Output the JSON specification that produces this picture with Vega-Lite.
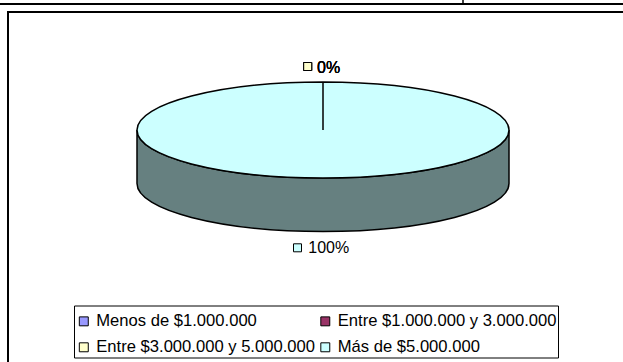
{
  "$schema": "https://vega.github.io/schema/vega-lite/v6.json",
  "autosize": "none",
  "width": 620,
  "height": 360,
  "padding": {"left": 8, "top": 12, "right": 0, "bottom": 0},
  "background": "white",
  "config": {
    "view": {"stroke": "black", "strokeWidth": 2},
    "font": "Liberation Sans",
    "text": {"font": "Liberation Sans", "fontSize": 16, "color": "black"},
    "legend": {
      "labelFont": "Liberation Sans",
      "labelFontSize": 16.6,
      "labelColor": "black",
      "labelLimit": 400,
      "labelOffset": 4.2,
      "symbolType": "square",
      "symbolSize": 80,
      "symbolStrokeColor": "black",
      "symbolStrokeWidth": 1,
      "symbolOpacity": 1,
      "strokeColor": "black",
      "padding": 1.5,
      "rowPadding": 9,
      "columnPadding": 1.5,
      "titleFontSize": 1,
      "titlePadding": 5
    }
  },
  "data": {
    "values": [
      {"rango": "Menos de $1.000.000", "share": 0},
      {"rango": "Entre $1.000.000 y 3.000.000", "share": 0},
      {"rango": "Entre $3.000.000 y 5.000.000", "share": 0},
      {"rango": "Más de $5.000.000", "share": 1}
    ]
  },
  "layer": [
    {
      "data": {"values": [{}]},
      "mark": {"type": "rule", "color": "black", "strokeWidth": 2},
      "encoding": {"x": {"value": -8}, "x2": {"value": 615}, "y": {"value": -8}}
    },
    {
      "data": {"values": [{}]},
      "mark": {"type": "rule", "color": "black", "strokeWidth": 1.5},
      "encoding": {"x": {"value": 455}, "y": {"value": -12}, "y2": {"value": -8}}
    },
    {
      "transform": [{"filter": "datum.share > 0"}],
      "mark": {
        "type": "point",
        "shape": "M -1 0 L -1 0.2876 C -1 0.4301 -0.5523 0.5456 0 0.5456 C 0.5523 0.5456 1 0.4301 1 0.2876 L 1 0 C 1 0.1425 0.5523 0.258 0 0.258 C -0.5523 0.258 -1 0.1425 -1 0 Z",
        "filled": true,
        "fill": "#668080",
        "stroke": "black",
        "strokeWidth": 1.5,
        "opacity": 1,
        "size": 138384,
        "xOffset": 5,
        "yOffset": -62
      },
      "encoding": {"detail": {"field": "rango"}}
    },
    {
      "transform": [{"filter": "datum.share > 0"}],
      "mark": {
        "type": "point",
        "shape": "M -1 0 C -1 -0.1425 -0.5523 -0.258 0 -0.258 C 0.5523 -0.258 1 -0.1425 1 0 C 1 0.1425 0.5523 0.258 0 0.258 C -0.5523 0.258 -1 0.1425 -1 0 Z M 0 0 L 0 -0.258",
        "filled": true,
        "stroke": "black",
        "strokeWidth": 1.5,
        "opacity": 1,
        "size": 138384,
        "xOffset": 5,
        "yOffset": -62
      },
      "encoding": {
        "color": {
          "field": "rango",
          "type": "nominal",
          "scale": {
            "domain": ["Menos de $1.000.000", "Entre $1.000.000 y 3.000.000", "Entre $3.000.000 y 5.000.000", "Más de $5.000.000"],
            "range": ["#9999FF", "#993366", "#FFFFCC", "#CCFFFF"]
          },
          "legend": {"title": " ", "orient": "none", "legendX": 66, "legendY": 293.5, "columns": 2, "direction": "horizontal"}
        }
      }
    },
    {
      "transform": [{"filter": "datum.share == 0"}],
      "mark": {"type": "point", "shape": "square", "filled": true, "stroke": "black", "strokeWidth": 1, "opacity": 1, "size": 64, "xOffset": -10.3, "yOffset": -125.5},
      "encoding": {
        "color": {"field": "rango", "type": "nominal", "legend": {"title": " ", "orient": "none", "legendX": 66, "legendY": 293.5, "columns": 2, "direction": "horizontal"}}
      }
    },
    {
      "transform": [{"filter": "datum.share == 0"}],
      "mark": {"type": "text", "align": "left", "baseline": "alphabetic", "fontSize": 16, "xOffset": -1, "yOffset": -118.7},
      "encoding": {"text": {"field": "share", "type": "quantitative", "format": ".0%"}}
    },
    {
      "transform": [{"filter": "datum.share > 0"}],
      "mark": {"type": "point", "shape": "square", "filled": true, "stroke": "black", "strokeWidth": 1, "opacity": 1, "size": 64, "xOffset": -20.5, "yOffset": 55.8},
      "encoding": {
        "color": {"field": "rango", "type": "nominal", "legend": {"title": " ", "orient": "none", "legendX": 66, "legendY": 293.5, "columns": 2, "direction": "horizontal"}}
      }
    },
    {
      "transform": [{"filter": "datum.share > 0"}],
      "mark": {"type": "text", "align": "left", "baseline": "alphabetic", "fontSize": 16, "xOffset": -9.7, "yOffset": 61.3},
      "encoding": {"text": {"field": "share", "type": "quantitative", "format": ".0%"}}
    }
  ]
}
